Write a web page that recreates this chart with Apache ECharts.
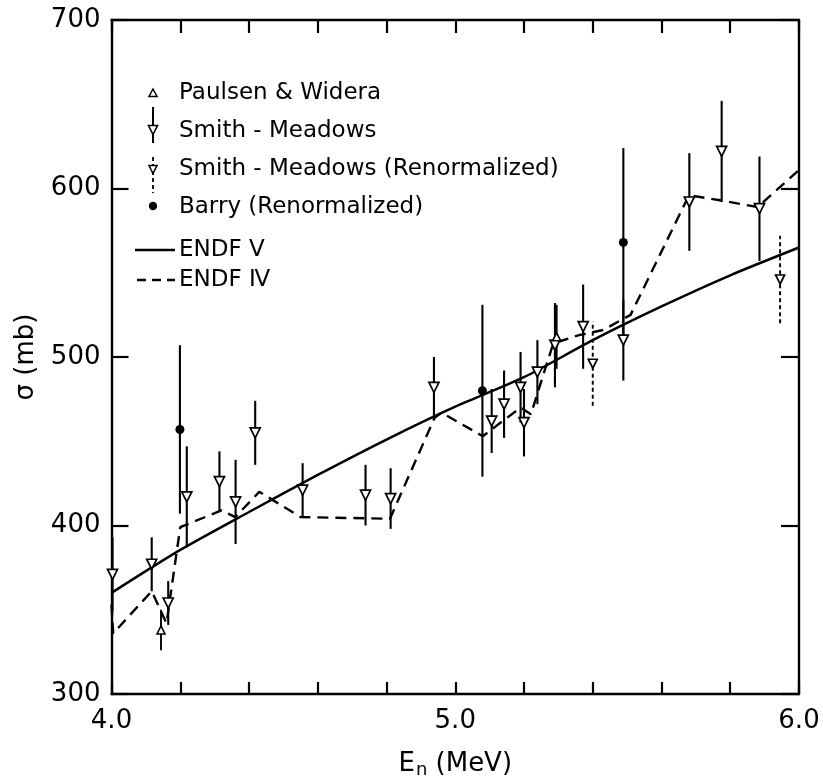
<!DOCTYPE html>
<html>
<head>
<meta charset="utf-8">
<script src="https://cdn.jsdelivr.net/npm/echarts@6/dist/echarts.min.js"></script>
<style>
  html, body { margin: 0; padding: 0; background: #fff; }
  #chart { width: 823px; height: 784px; }
</style>
</head>
<body>
<div id="chart"></div>
<script>
const FONT = 'DejaVu Sans';

// Smith - Meadows: energy (MeV), cross section (mb), uncertainty (mb)
const smithE   = [4.003, 4.117, 4.165, 4.219, 4.314, 4.361, 4.418, 4.556, 4.739, 4.812, 4.938,
                  5.106, 5.142, 5.190, 5.200, 5.239, 5.290, 5.372, 5.489, 5.681, 5.775, 5.885];
const smithS   = [371, 377, 354, 417, 426, 414, 455, 421, 418, 416, 482,
                  462, 472, 482, 461, 491, 507, 518, 510, 592, 622, 588];
const smithErr = [22, 16, 13, 30, 18, 25, 19, 16, 18, 18, 18,
                  19, 20, 21, 20, 19, 25, 25, 24, 29, 30, 31];

// Smith - Meadows (Renormalized)
const renormE   = [5.400, 5.945];
const renormS   = [496, 546];
const renormErr = [25, 26];

// Barry (Renormalized)
const barryE   = [4.199, 5.079, 5.489];
const barryS   = [457, 480, 568];
const barryErr = [50, 51, 56];

// Paulsen & Widera
const paulsenE   = [4.144, 5.295];
const paulsenS   = [338, 512];
const paulsenErr = [12, 19];

// ENDF/B-V evaluation
const endf5E = [4.0, 4.2, 4.4, 4.6, 4.8, 5.0, 5.2, 5.4, 5.6, 5.8, 6.0];
const endf5S = [360, 385.5, 408, 430, 451, 470.5, 488, 510, 530, 548.5, 565];

// ENDF/B-IV evaluation
const endf4E = [4.0, 4.005, 4.117, 4.16, 4.20, 4.32, 4.36, 4.43, 4.55, 4.81, 4.94, 4.96,
                5.08, 5.19, 5.22, 5.285, 5.36, 5.43, 5.51, 5.68, 5.77, 5.88, 6.0];
const endf4S = [353, 336, 361, 342, 399, 409, 405, 420, 405, 404, 464, 467,
                453, 470, 466, 508, 513, 516, 525, 596, 593, 589, 611];

// Axis ranges and ticks
const xMin = 4.0, xMax = 6.0, xStep = 0.2;
const yMin = 300, yMax = 700, yStep = 100;

const pairs = (xs, ys) => xs.map((x, i) => [x, ys[i]]);
const bars = (xs, ys, es) => xs.map((x, i) => [x, ys[i] - es[i], ys[i] + es[i]]);

function errorBarSeries(data, dashed, width) {
  return {
    type: 'custom',
    xAxisIndex: 0, yAxisIndex: 0,
    z: 3,
    silent: true,
    data: data,
    renderItem: function (params, api) {
      const lo = api.coord([api.value(0), api.value(1)]);
      const hi = api.coord([api.value(0), api.value(2)]);
      return {
        type: 'line',
        shape: { x1: lo[0], y1: lo[1], x2: hi[0], y2: hi[1] },
        style: { stroke: '#000', lineWidth: width, lineDash: dashed ? [4, 3] : null }
      };
    }
  };
}

const chart = echarts.init(document.getElementById('chart'), null, { renderer: 'canvas' });

const axisLine = { show: true, onZero: false, lineStyle: { color: '#000', width: 2.4 } };

// Legend block drawn in the upper-left of the frame
const LX = 153, TX = 179;
const legendFont = '23px "' + FONT + '"';
function legendText(y, txt) {
  return { type: 'text', x: TX, y: y, z: 50,
           style: { text: txt, font: legendFont, fill: '#000', verticalAlign: 'middle' } };
}
const legend = [
  { type: 'polygon', z: 50, shape: { points: [[LX - 4, 96.5], [LX + 4, 96.5], [LX, 89]] },
    style: { fill: '#fff', stroke: '#000', lineWidth: 1.5 } },
  legendText(93, 'Paulsen & Widera'),

  { type: 'line', z: 49, shape: { x1: LX, y1: 107, x2: LX, y2: 143 }, style: { stroke: '#000', lineWidth: 2 } },
  { type: 'polygon', z: 50, shape: { points: [[LX - 4.5, 125.5], [LX + 4.5, 125.5], [LX, 134.5]] },
    style: { fill: '#fff', stroke: '#000', lineWidth: 1.6 } },
  legendText(131, 'Smith - Meadows'),

  { type: 'line', z: 49, shape: { x1: LX, y1: 157, x2: LX, y2: 193 },
    style: { stroke: '#000', lineWidth: 1.8, lineDash: [4, 3] } },
  { type: 'polygon', z: 50, shape: { points: [[LX - 4, 165.5], [LX + 4, 165.5], [LX, 173.5]] },
    style: { fill: '#fff', stroke: '#000', lineWidth: 1.5 } },
  legendText(169, 'Smith - Meadows (Renormalized)'),

  { type: 'circle', z: 50, shape: { cx: LX, cy: 206, r: 4.2 }, style: { fill: '#000' } },
  legendText(207, 'Barry (Renormalized)'),

  { type: 'line', z: 50, shape: { x1: 135, y1: 250, x2: 175, y2: 250 }, style: { stroke: '#000', lineWidth: 2.4 } },
  legendText(250, 'ENDF \u2164'),

  { type: 'line', z: 50, shape: { x1: 137, y1: 280, x2: 175, y2: 280 },
    style: { stroke: '#000', lineWidth: 2.4, lineDash: [9, 6] } },
  legendText(280, 'ENDF \u2163')
];

const option = {
  animation: false,
  backgroundColor: '#fff',
  textStyle: { fontFamily: FONT, color: '#000' },
  grid: { left: 111.5, right: 24, top: 20, bottom: 84, containLabel: false },
  xAxis: [
    {
      type: 'value', position: 'bottom', min: xMin, max: xMax, interval: xStep,
      axisLine: axisLine,
      axisTick: { show: true, inside: true, length: 12, lineStyle: { color: '#000', width: 2.2 } },
      axisLabel: {
        show: true, margin: 14, color: '#000', fontSize: 26, fontFamily: FONT,
        formatter: v => (Math.abs(v - Math.round(v)) < 1e-6 ? v.toFixed(1) : '')
      },
      splitLine: { show: false },
      name: '{t|E}{s|n}{t| (MeV)}',
      nameLocation: 'middle', nameGap: 55,
      nameTextStyle: {
        rich: {
          t: { fontSize: 26, fontFamily: FONT, color: '#000' },
          s: { fontSize: 18, fontFamily: FONT, color: '#000', padding: [12, 0, 0, 1] }
        }
      }
    },
    {
      type: 'value', position: 'top', min: xMin, max: xMax, interval: xStep,
      axisLine: axisLine,
      axisTick: { show: true, inside: true, length: 13, lineStyle: { color: '#000', width: 2.2 } },
      axisLabel: { show: false }, splitLine: { show: false }
    }
  ],
  yAxis: [
    {
      type: 'value', position: 'left', min: yMin, max: yMax, interval: yStep,
      axisLine: axisLine,
      axisTick: { show: true, inside: true, length: 17, lineStyle: { color: '#000', width: 2.2 } },
      axisLabel: { show: true, margin: 11, color: '#000', fontSize: 26, fontFamily: FONT },
      splitLine: { show: false },
      name: '\u03C3 (mb)', nameLocation: 'middle', nameGap: 72, nameRotate: 90,
      nameTextStyle: { fontSize: 26, fontFamily: FONT, color: '#000' }
    },
    {
      type: 'value', position: 'right', min: yMin, max: yMax, interval: yStep,
      axisLine: axisLine,
      axisTick: { show: true, inside: true, length: 18, lineStyle: { color: '#000', width: 2.2 } },
      axisLabel: { show: false }, splitLine: { show: false }
    }
  ],
  graphic: legend,
  series: [
    {
      name: 'ENDF V', type: 'line', data: pairs(endf5E, endf5S),
      smooth: 0.25, symbol: 'none', z: 2,
      lineStyle: { color: '#000', width: 2.5 }
    },
    {
      name: 'ENDF IV', type: 'line', data: pairs(endf4E, endf4S),
      symbol: 'none', z: 2,
      lineStyle: { color: '#000', width: 2.4, type: [11, 7] }
    },
    errorBarSeries(bars(smithE, smithS, smithErr), false, 2.1),
    errorBarSeries(bars(renormE, renormS, renormErr), true, 1.9),
    errorBarSeries(bars(barryE, barryS, barryErr), false, 2.1),
    errorBarSeries(bars(paulsenE, paulsenS, paulsenErr), false, 1.9),
    {
      name: 'Smith - Meadows', type: 'scatter', data: pairs(smithE, smithS), z: 5,
      symbol: 'triangle', symbolRotate: 180, symbolSize: [10, 10],
      itemStyle: { color: '#fff', borderColor: '#000', borderWidth: 1.7, opacity: 1 }
    },
    {
      name: 'Smith - Meadows (Renormalized)', type: 'scatter', data: pairs(renormE, renormS), z: 5,
      symbol: 'triangle', symbolRotate: 180, symbolSize: [9, 9],
      itemStyle: { color: '#fff', borderColor: '#000', borderWidth: 1.7, opacity: 1 }
    },
    {
      name: 'Barry (Renormalized)', type: 'scatter', data: pairs(barryE, barryS), z: 5,
      symbol: 'circle', symbolSize: 9,
      itemStyle: { color: '#000', opacity: 1 }
    },
    {
      name: 'Paulsen & Widera', type: 'scatter', data: pairs(paulsenE, paulsenS), z: 5,
      symbol: 'triangle', symbolSize: [8, 8],
      itemStyle: { color: '#fff', borderColor: '#000', borderWidth: 1.6, opacity: 1 }
    }
  ]
};

chart.setOption(option);
</script>
</body>
</html>
